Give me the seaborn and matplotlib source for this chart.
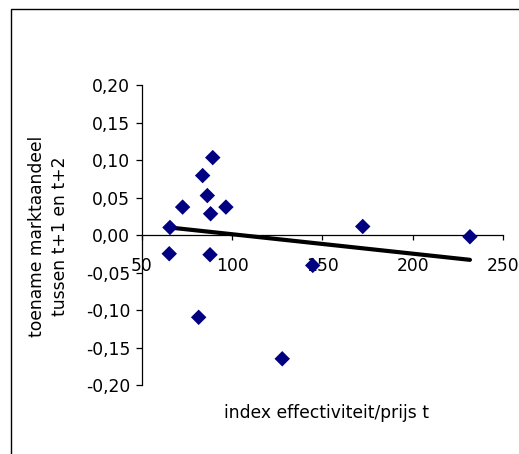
import numpy as np
import pandas as pd
import matplotlib
matplotlib.use("Agg")
import matplotlib.pyplot as plt
from matplotlib.patches import Rectangle
import seaborn as sns

# values
index_eff = [65.5, 65.1, 72.5, 83.6, 89.2, 86.2, 88.0, 87.7, 96.5, 81.4, 127.7, 144.6, 172.3, 231.7]
toename = [0.0104, -0.0247, 0.0376, 0.0797, 0.1037, 0.0530, 0.0287, -0.0260, 0.0376, -0.1096,
           -0.1650, -0.0403, 0.0117, -0.0020]
x_ticks = [50, 100, 150, 200, 250]
y_ticks = [-0.20, -0.15, -0.10, -0.05, 0.00, 0.05, 0.10, 0.15, 0.20]

df = pd.DataFrame({'x': index_eff, 'y': toename})

sns.set_style("white")
plt.rcParams['font.family'] = ['DejaVu Sans']
plt.rcParams['text.color'] = 'black'
plt.rcParams['xtick.color'] = 'black'
plt.rcParams['ytick.color'] = 'black'

fs = 12.3

fig = plt.figure(figsize=(5.19, 4.54), dpi=100)
ax = fig.add_axes([0.2736, 0.152, 0.6955, 0.6597])

sns.regplot(data=df, x='x', y='y', ax=ax, ci=None, truncate=True,
            marker='D', color='#000080',
            scatter_kws={'s': 62, 'edgecolors': 'none', 'alpha': 1, 'zorder': 3},
            line_kws={'color': 'black', 'lw': 3, 'solid_capstyle': 'round', 'zorder': 2})

ax.set_xlim(50, 250)
ax.set_ylim(-0.20, 0.20)
ax.set_xticks(x_ticks)
ax.set_yticks(y_ticks)
ax.set_xticklabels([str(v) for v in x_ticks])
ax.set_yticklabels([f"{v:.2f}".replace('.', ',').replace('-0,00', '0,00') for v in y_ticks])

for s in ['top', 'right']:
    ax.spines[s].set_visible(False)
ax.spines['bottom'].set_position(('data', 0))
for s in ['left', 'bottom']:
    ax.spines[s].set_color('black')
    ax.spines[s].set_linewidth(0.9)

ax.tick_params(axis='y', direction='out', length=4.5, width=0.9, pad=4, labelsize=fs, labelcolor='black')
ax.tick_params(axis='x', direction='out', length=3.5, width=0.9, pad=12, labelsize=fs, labelcolor='black')
ax.tick_params(left=True, bottom=True)

ax.set_xlabel('')
ax.set_ylabel('')
fig.text(0.63, 0.09, 'index effectiviteit/prijs t', ha='center', va='center', fontsize=fs)
fig.text(0.0935, 0.48, 'toename marktaandeel\ntussen t+1 en t+2', ha='center', va='center',
         rotation=90, fontsize=fs, linespacing=1.3)

# chart area border, cut off at right and bottom like the reference
fig.patches.append(Rectangle((0.0212, -0.1), 1.2, 1.08, transform=fig.transFigure,
                             fill=False, edgecolor='black', lw=1.0))

fig.savefig('out.png', dpi=100)
